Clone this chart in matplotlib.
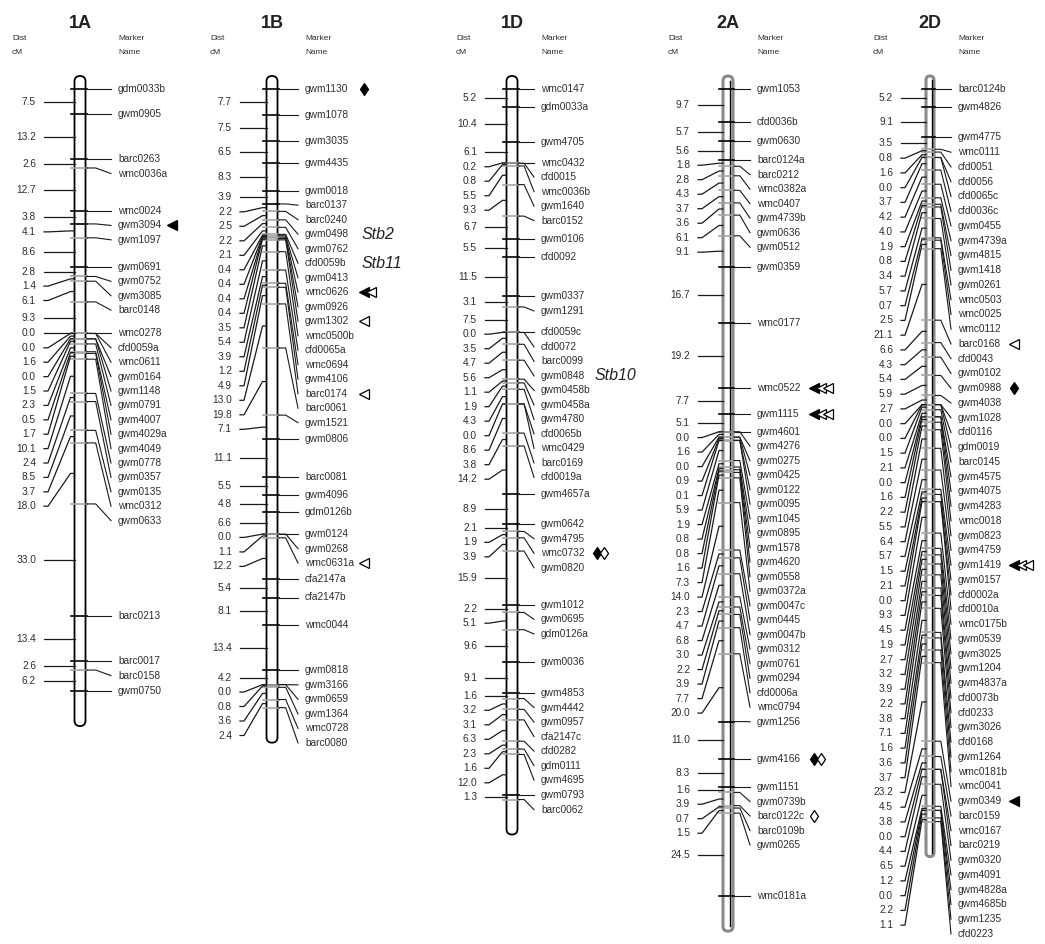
import numpy as np
import matplotlib.pyplot as plt
from matplotlib.patches import FancyBboxPatch

plt.rcParams['font.family'] = ['Liberation Sans', 'DejaVu Sans']

# ---- data: marker names (top to bottom) and interval distances in cM ----
markers_1A = ["gdm0033b", "gwm0905", "barc0263", "wmc0036a", "wmc0024", "gwm3094", "gwm1097",
              "gwm0691", "gwm0752", "gwm3085", "barc0148", "wmc0278", "cfd0059a", "wmc0611",
              "gwm0164", "gwm1148", "gwm0791", "gwm4007", "gwm4029a", "gwm4049", "gwm0778",
              "gwm0357", "gwm0135", "wmc0312", "gwm0633", "barc0213", "barc0017", "barc0158",
              "gwm0750"]
dist_1A = [7.5, 13.2, 2.6, 12.7, 3.8, 4.1, 8.6, 2.8, 1.4, 6.1, 9.3, 0.0, 0.0, 1.6, 0.0, 1.5,
           2.3, 0.5, 1.7, 10.1, 2.4, 8.5, 3.7, 18.0, 33.0, 13.4, 2.6, 6.2]

markers_1B = ["gwm1130", "gwm1078", "gwm3035", "gwm4435", "gwm0018", "barc0137", "barc0240",
              "gwm0498", "gwm0762", "cfd0059b", "gwm0413", "wmc0626", "gwm0926", "gwm1302",
              "wmc0500b", "cfd0065a", "wmc0694", "gwm4106", "barc0174", "barc0061", "gwm1521",
              "gwm0806", "barc0081", "gwm4096", "gdm0126b", "gwm0124", "gwm0268", "wmc0631a",
              "cfa2147a", "cfa2147b", "wmc0044", "gwm0818", "gwm3166", "gwm0659", "gwm1364",
              "wmc0728", "barc0080"]
dist_1B = [7.7, 7.5, 6.5, 8.3, 3.9, 2.2, 2.5, 2.2, 2.1, 0.4, 0.4, 0.4, 0.4, 3.5, 5.4, 3.9, 1.2,
           4.9, 13.0, 19.8, 7.1, 11.1, 5.5, 4.8, 6.6, 0.0, 1.1, 12.2, 5.4, 8.1, 13.4, 4.2, 0.0,
           0.8, 3.6, 2.4]

markers_1D = ["wmc0147", "gdm0033a", "gwm4705", "wmc0432", "cfd0015", "wmc0036b", "gwm1640",
              "barc0152", "gwm0106", "cfd0092", "gwm0337", "gwm1291", "cfd0059c", "cfd0072",
              "barc0099", "gwm0848", "gwm0458b", "gwm0458a", "gwm4780", "cfd0065b", "wmc0429",
              "barc0169", "cfd0019a", "gwm4657a", "gwm0642", "gwm4795", "wmc0732", "gwm0820",
              "gwm1012", "gwm0695", "gdm0126a", "gwm0036", "gwm4853", "gwm4442", "gwm0957",
              "cfa2147c", "cfd0282", "gdm0111", "gwm4695", "gwm0793", "barc0062"]
dist_1D = [5.2, 10.4, 6.1, 0.2, 0.8, 5.5, 9.3, 6.7, 5.5, 11.5, 3.1, 7.5, 0.0, 3.5, 4.7, 5.6,
           1.1, 1.9, 4.3, 0.0, 8.6, 3.8, 14.2, 8.9, 2.1, 1.9, 3.9, 15.9, 2.2, 5.1, 9.6, 9.1,
           1.6, 3.2, 3.1, 6.3, 2.3, 1.6, 12.0, 1.3]

markers_2A = ["gwm1053", "cfd0036b", "gwm0630", "barc0124a", "barc0212", "wmc0382a", "wmc0407",
              "gwm4739b", "gwm0636", "gwm0512", "gwm0359", "wmc0177", "wmc0522", "gwm1115",
              "gwm4601", "gwm4276", "gwm0275", "gwm0425", "gwm0122", "gwm0095", "gwm1045",
              "gwm0895", "gwm1578", "gwm4620", "gwm0558", "gwm0372a", "gwm0047c", "gwm0445",
              "gwm0047b", "gwm0312", "gwm0761", "gwm0294", "cfd0006a", "wmc0794", "gwm1256",
              "gwm4166", "gwm1151", "gwm0739b", "barc0122c", "barc0109b", "gwm0265", "wmc0181a"]
dist_2A = [9.7, 5.7, 5.6, 1.8, 2.8, 4.3, 3.7, 3.6, 6.1, 9.1, 16.7, 19.2, 7.7, 5.1, 0.0, 1.6,
           0.0, 0.9, 0.1, 5.9, 1.9, 0.8, 0.8, 1.6, 7.3, 14.0, 2.3, 4.7, 6.8, 3.0, 2.2, 3.9,
           7.7, 20.0, 11.0, 8.3, 1.6, 3.9, 0.7, 1.5, 24.5]

markers_2D = ["barc0124b", "gwm4826", "gwm4775", "wmc0111", "cfd0051", "cfd0056", "cfd0065c",
              "cfd0036c", "gwm0455", "gwm4739a", "gwm4815", "gwm1418", "gwm0261", "wmc0503",
              "wmc0025", "wmc0112", "barc0168", "cfd0043", "gwm0102", "gwm0988", "gwm4038",
              "gwm1028", "cfd0116", "gdm0019", "barc0145", "gwm4575", "gwm4075", "gwm4283",
              "wmc0018", "gwm0823", "gwm4759", "gwm1419", "gwm0157", "cfd0002a", "cfd0010a",
              "wmc0175b", "gwm0539", "gwm3025", "gwm1204", "gwm4837a", "cfd0073b", "cfd0233",
              "gwm3026", "cfd0168", "gwm1264", "wmc0181b", "wmc0041", "gwm0349", "barc0159",
              "wmc0167", "barc0219", "gwm0320", "gwm4091", "gwm4828a", "gwm4685b", "gwm1235",
              "cfd0223"]
dist_2D = [5.2, 9.1, 3.5, 0.8, 1.6, 0.0, 3.7, 4.2, 4.0, 1.9, 0.8, 3.4, 5.7, 0.7, 2.5, 21.1,
           6.6, 4.3, 5.4, 5.9, 2.7, 0.0, 0.0, 1.5, 2.1, 0.0, 1.6, 2.2, 5.5, 6.4, 5.7, 1.5, 2.1,
           0.0, 9.3, 4.5, 1.9, 2.7, 3.2, 3.9, 2.2, 3.8, 7.1, 1.6, 3.6, 3.7, 23.2, 4.5, 3.8,
           0.0, 4.4, 6.5, 1.2, 0.0, 2.2, 1.1]

# symbols: F filled triangle, O open triangle, D filled diamond, E open diamond
symbols_1A = {"gwm3094": "F"}
symbols_1B = {"gwm1130": "D", "wmc0626": "FO", "gwm1302": "O", "barc0174": "O", "wmc0631a": "O"}
symbols_1D = {"wmc0732": "DE"}
symbols_2A = {"wmc0522": "FOO", "gwm1115": "FOO", "gwm4166": "DE", "barc0122c": "E"}
symbols_2D = {"barc0168": "O", "gwm0988": "D", "gwm1419": "FOO", "gwm0349": "F"}

genes_1B = {"gwm0498": "Stb2", "cfd0059b": "Stb11"}
genes_1D = {"gwm0848": "Stb10"}

# ---- layout (pixels) ----
Y_TOP = 89
SCALE = 3.39  # px per cM
layout = {
    "1A": dict(cx=80, dist_r=36, lab_x=118, hdr_x=12, sym_x=172, gap=14.4, hw=5.5, grey=False),
    "1B": dict(cx=272, dist_r=232, lab_x=305, hdr_x=210, sym_x=364, gap=14.5, hw=5.5, grey=False),
    "1D": dict(cx=512, dist_r=477, lab_x=541, hdr_x=456, sym_x=597, gap=14.5, hw=5.5, grey=False),
    "2A": dict(cx=728, dist_r=690, lab_x=757, hdr_x=668, sym_x=814, gap=14.5, hw=5.0, grey=True),
    "2D": dict(cx=930, dist_r=893, lab_x=958, hdr_x=873, sym_x=1014, gap=14.75, hw=4.0, grey=True),
}
TXT = '#2e2e2e'


def push_down(targets, gap):
    out = []
    for t in targets:
        out.append(t if not out else max(t, out[-1] + gap))
    return np.array(out)


def draw_chrom(ax, name, markers, dists, syms, genes, gene_x, lay):
    cx, hw, gap = lay['cx'], lay['hw'], lay['gap']
    pos = Y_TOP + SCALE * np.concatenate([[0.0], np.cumsum(dists)])
    top, bot = pos[0] - 13, pos[-1] + 35

    # chromosome bar
    ec = '#8a8a8a' if lay['grey'] else 'black'
    bar = FancyBboxPatch((cx - hw, top), 2 * hw, bot - top,
                         boxstyle=f"round,pad=0,rounding_size={hw}",
                         fc='white', ec=ec, lw=2.2 if lay['grey'] else 1.3, zorder=1)
    ax.add_patch(bar)
    if lay['grey']:
        ax.plot([cx + hw * 0.45] * 2, [top + hw, bot - hw], color='black', lw=1.0, zorder=1)

    # header
    ax.text(cx, 24, name, ha='center', va='center', fontsize=13, fontweight='bold', color='#222')
    ax.text(lay['hdr_x'], 38, "Dist", fontsize=6, color=TXT, va='center')
    ax.text(lay['hdr_x'], 52, "cM", fontsize=6, color=TXT, va='center')
    ax.text(lay['lab_x'], 38, "Marker", fontsize=6, color=TXT, va='center')
    ax.text(lay['lab_x'], 52, "Name", fontsize=6, color=TXT, va='center')

    # markers on the right
    lab = push_down(pos, gap)
    xr_end = lay['lab_x'] - 7
    xr_bend = cx + hw + 0.4 * (xr_end - cx - hw)
    for mk, y, l in zip(markers, pos, lab):
        col = 'black' if abs(l - y) < 2 else '#a5a5a5'
        ax.plot([cx - hw - 4, cx + hw + 1], [y, y], color=col, lw=1.2, zorder=2)
        ax.plot([cx + hw + 1, xr_bend, xr_end], [y, y, l], color='#1a1a1a', lw=0.8, zorder=2)
        ax.text(lay['lab_x'], l, mk, fontsize=7.3, color=TXT, ha='left', va='center')
        if mk in syms:
            for k, s in enumerate(syms[mk]):
                mshape = '<' if s in 'FO' else 'd'
                face = 'black' if s in 'FD' else 'white'
                ax.plot(lay['sym_x'] + 7 * k, l, marker=mshape, ms=6.5, mfc=face,
                        mec='black', mew=0.9, zorder=3)
        if mk in genes:
            ax.text(gene_x, l, genes[mk], fontsize=11.5, fontstyle='italic',
                    color='#222', ha='left', va='center')

    # interval distances on the left
    mids = (pos[:-1] + pos[1:]) / 2
    dl = push_down(mids, gap)
    xl0 = lay['dist_r'] + 8
    xbar = cx - hw
    for d, t, m in zip(dists, mids, dl):
        ax.plot([xl0, xl0 + 4, xbar - 4, xbar], [m, m, t, t], color='#1a1a1a', lw=0.9, zorder=2)
        ax.text(lay['dist_r'], m, f"{d:.1f}", fontsize=7.3, color=TXT, ha='right', va='center')


fig = plt.figure(figsize=(10.45, 9.44), dpi=100)
ax = fig.add_axes([0, 0, 1, 1])
ax.set_xlim(0, 1045)
ax.set_ylim(944, 0)
ax.axis('off')

draw_chrom(ax, "1A", markers_1A, dist_1A, symbols_1A, {}, None, layout["1A"])
draw_chrom(ax, "1B", markers_1B, dist_1B, symbols_1B, genes_1B, 362, layout["1B"])
draw_chrom(ax, "1D", markers_1D, dist_1D, symbols_1D, genes_1D, 595, layout["1D"])
draw_chrom(ax, "2A", markers_2A, dist_2A, symbols_2A, {}, None, layout["2A"])
draw_chrom(ax, "2D", markers_2D, dist_2D, symbols_2D, {}, None, layout["2D"])

fig.savefig("out.png", dpi=100)
